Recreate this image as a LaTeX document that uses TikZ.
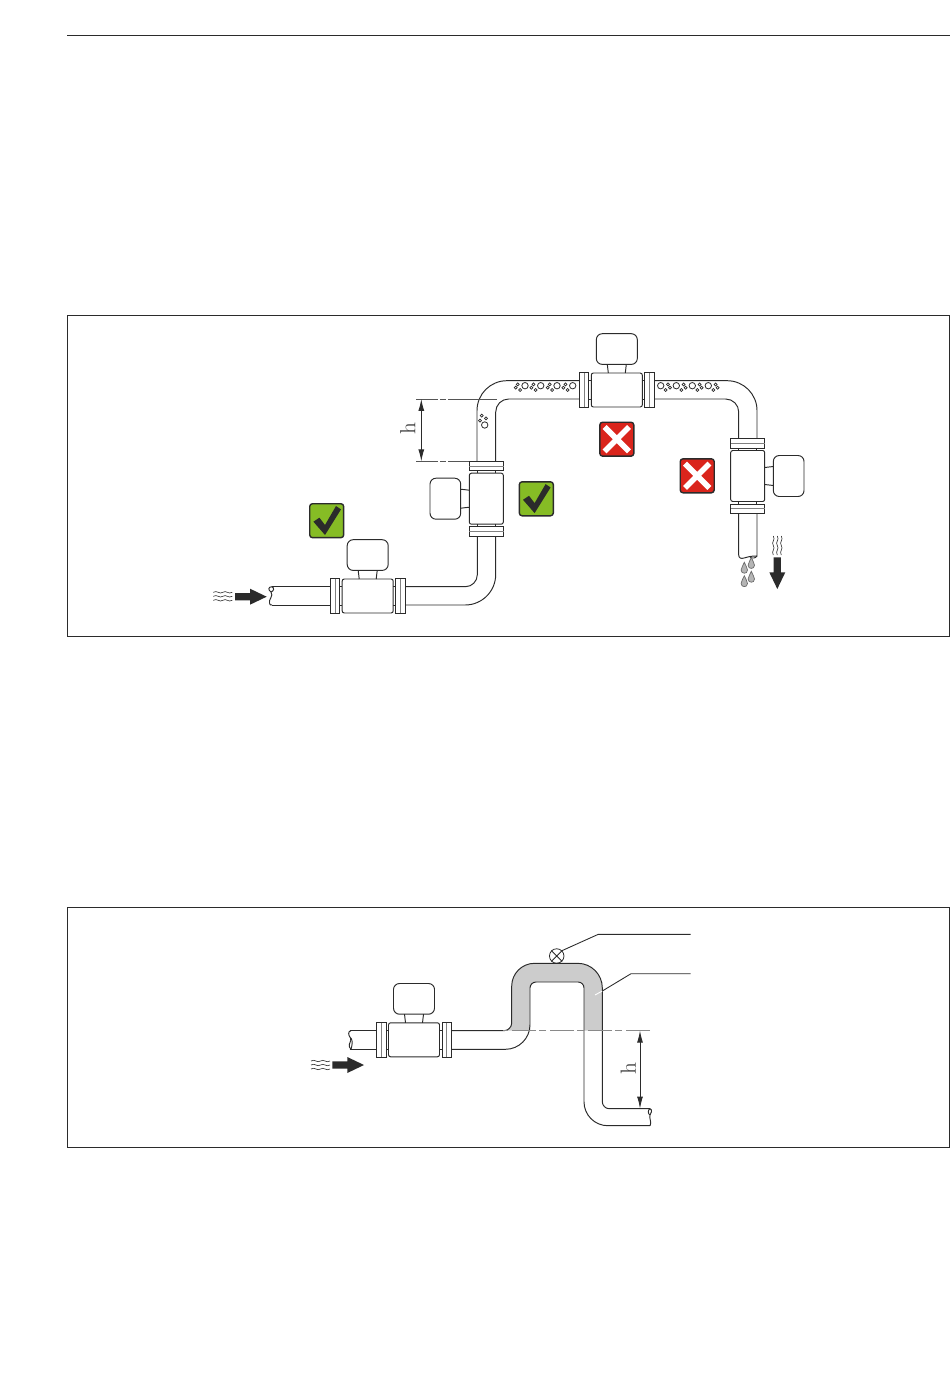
\documentclass[tikz,border=0pt]{standalone}
\usetikzlibrary{arrows.meta}
\definecolor{inkdark}{HTML}{2B2B2B}
\definecolor{okgreen}{HTML}{86BC25}
\definecolor{badred}{HTML}{DA251C}
\definecolor{siphongrey}{HTML}{CCCCCC}
\begin{document}
\begin{tikzpicture}[x=0.02cm,y=-0.02cm]

      \tikzset{pipe/.style={draw=inkdark, line width=.55pt},
      	panel/.style={draw=inkdark, line width=.5pt},
      	okbox/.style={draw=inkdark, line width=.8pt, rounded corners=1.6pt, fill=okgreen, minimum size=.68cm, inner sep=0pt},
      	badbox/.style={draw=inkdark, line width=.8pt, rounded corners=1.6pt, fill=badred, minimum size=.68cm, inner sep=0pt},
      	dimline/.style={draw=inkdark, line width=.5pt, {Latex[length=6.8pt,width=3.4pt]}-{Latex[length=6.8pt,width=3.4pt]}},
      	centreline/.style={draw=inkdark!80, line width=.5pt},
      	dimlabel/.style={rotate=90, inner sep=0pt, text=inkdark!85, font=\fontsize{12.5}{12.5}\selectfont},
      	meter/.pic={
      		\draw[pipe, rounded corners=1.2pt] (-25.5,-17) rectangle (25.5,17);
      		\draw[pipe] (-37.4,-17.2) rectangle (-28,17.2);
      		\draw[pipe] (28,-17.2) rectangle (37.4,17.2);
      		\draw[inkdark!60, line width=.35pt] (-32.7,-17.2) -- (-32.7,17.2) (32.7,-17.2) -- (32.7,17.2);
      		\draw[pipe] (-28,-9.2) -- (-25.5,-9.2) (-28,9.2) -- (-25.5,9.2);
      		\draw[pipe] (28,-9.2) -- (25.5,-9.2) (28,9.2) -- (25.5,9.2);
      		\draw[pipe, rounded corners=3.4pt] (-20.5,-56.3) rectangle (20.5,-25.6);
      		\draw[pipe] (-9.5,-25.6) -- (-8.5,-17) (9.5,-25.6) -- (8.5,-17);
      	},
      	flowarrow/.pic={
      		\fill[inkdark] (0,-3.6) -- (15,-3.6) -- (15,-8) -- (31.7,0) -- (15,8) -- (15,3.6) -- (0,3.6) -- cycle;
      	},
      	waves/.pic={
      		\draw[inkdark, line width=.35pt] (0,-4) .. controls (4,-6.5) and (6,-1.5) .. (9.5,-4) .. controls (13,-6.5) and (15,-1.5) .. (19,-4);
      		\draw[inkdark, line width=.35pt] (0,0) .. controls (4,-2.5) and (6,2.5) .. (9.5,0) .. controls (13,-2.5) and (15,2.5) .. (19,0);
      		\draw[inkdark, line width=.35pt] (0,4) .. controls (4,1.5) and (6,6.5) .. (9.5,4) .. controls (13,1.5) and (15,6.5) .. (19,4);
      	},
      	bubbles/.pic={
      		\draw[inkdark, line width=.45pt] (0,0) circle (3.2);
      		\draw[inkdark, line width=.4pt, fill=white] (-9.3,2) circle (1.5);
      		\draw[inkdark, line width=.4pt, fill=white] (-7.3,-1.3) circle (1.5);
      		\draw[inkdark, line width=.4pt, fill=white] (-5,4.3) circle (1.5);
      	},
      	risebubbles/.pic={
      		\draw[inkdark, line width=.45pt] (0,0) circle (3.2);
      		\draw[inkdark, line width=.4pt, fill=white] (-3,-9.3) circle (1.5);
      		\draw[inkdark, line width=.4pt, fill=white] (1.3,-6.7) circle (1.5);
      		\draw[inkdark, line width=.4pt, fill=white] (-4.7,-4.3) circle (1.5);
      	},
      	droplet/.pic={
      		\draw[inkdark!70, line width=.4pt, fill=inkdark!35] (0,-6.5) .. controls (1,-3) and (3.2,-1.5) .. (3.2,1.2) .. controls (3.2,3.6) and (1.5,4.4) .. (0,4.4) .. controls (-1.5,4.4) and (-3.2,3.6) .. (-3.2,1.2) .. controls (-3.2,-1.5) and (-1,-3) .. (0,-6.5) -- cycle;
      	}}
      \newcommand{\okmark}[1]{\fill[inkdark, shift={(#1.center)}] (-13.3,1) -- (-7.3,-3) -- (-1.7,4.3) -- (9.3,-14.7) -- (14.3,-11.3) -- (-1.7,14.3) -- cycle;}
      \newcommand{\badmark}[1]{\draw[white, line width=3.2pt, shift={(#1.center)}] (-12.2,-12.2) -- (12.2,12.2) (-12.2,12.2) -- (12.2,-12.2);}

      \useasboundingbox (0,0) rectangle (950,1378);
      \draw[panel] (67,35.6) -- (950,35.6);

%% Panels
      	\node[panel, minimum width=17.655cm, minimum height=6.43cm, inner sep=0pt] (panelA) at (508.4,476) {};
      	\node[panel, minimum width=17.655cm, minimum height=4.81cm, inner sep=0pt] (panelB) at (508.4,1027.5) {};

%% Meters
      	\pic at (367.7,596) {meter};
      	\pic[rotate=90] at (486.3,498.7) {meter};
      	\pic at (616.8,390) {meter};
      	\pic[rotate=-90] at (747.7,476) {meter};

%% Pipe run, first panel
		\draw[pipe] (272,586.7) -- (330.3,586.7) (272,605) -- (330.3,605);
		\draw[pipe] (272,586.7) .. controls (268,586.7) and (268,590) .. (271,592) .. controls (274,596) and (268,600) .. (269.5,603) .. controls (270,605) .. (272,605);
		\draw[pipe] (272,586.7) .. controls (274.5,588) and (274,591) .. (271,592);
		\draw[pipe, rounded corners=6.8pt] (405.1,586.7) -- (477.3,586.7) -- (477.3,536.1);
		\draw[pipe, rounded corners=17.4pt] (405.1,605) -- (495.7,605) -- (495.7,536.1);
		\draw[pipe, rounded corners=7.4pt] (495.7,461.3) -- (495.7,399) -- (579.4,399);
		\draw[pipe, rounded corners=17pt] (477,461.3) -- (477,380.7) -- (579.4,380.7);
		\draw[pipe, rounded corners=17pt] (654.2,380.7) -- (757,380.7) -- (757,438.3);
		\draw[pipe, rounded corners=7.4pt] (654.2,399) -- (738.7,399) -- (738.7,438.3);
		\draw[pipe] (738.7,513.4) -- (738.7,555) .. controls (738.7,558) and (741,559) .. (744,558) .. controls (748,557) and (750,556) .. (757,556) -- (757,513.4);
		\draw[pipe] (750,557) .. controls (752,559) and (756,558) .. (757,556);

%% Bubbles
      	\pic at (525,385.7) {bubbles};
      	\pic at (540.7,385.7) {bubbles};
      	\pic at (557,385.7) {bubbles};
      	\pic at (572.7,385.7) {bubbles};
      	\pic[xscale=-1] at (660.7,385.7) {bubbles};
      	\pic[xscale=-1] at (676.3,385.7) {bubbles};
      	\pic[xscale=-1] at (692.3,385.7) {bubbles};
      	\pic[xscale=-1] at (708.3,385.7) {bubbles};
      	\pic at (484.7,425) {risebubbles};

%% Height of the rising pipe
      	\coordinate (riseTop) at (421.3,399);
      	\coordinate (riseBottom) at (421.3,461.3);
      	\coordinate (riseTopEnd) at (497,399);
      	\coordinate (riseBottomEnd) at (469.3,461.3);
      	\draw[centreline, dash pattern=on 12.5pt off 1.3pt on 3.2pt off 1.3pt on 60pt] (416,399) -- (riseTopEnd);
      	\draw[centreline, dash pattern=on 12.5pt off 1.3pt on 3.2pt off 1.3pt on 60pt] (416,461.3) -- (riseBottomEnd);
      	\draw[dimline] (riseTop) -- (riseBottom);
      	\node[dimlabel] (riseLabel) at (407.8,429) {h};

%% Right and wrong marks
      	\node[okbox] (okA) at (326.7,520.7) {};
      	\okmark{okA}
      	\node[okbox] (okB) at (536.3,498.8) {};
      	\okmark{okB}
      	\node[badbox] (badA) at (616.8,439.2) {};
      	\badmark{badA}
      	\node[badbox] (badB) at (697.2,475.8) {};
      	\badmark{badB}

%% Flow, drops
      	\pic at (213.3,596.3) {waves};
      	\pic at (235,596.7) {flowarrow};
      	\pic[rotate=-90] at (777.3,536) {waves};
      	\pic[rotate=-90] at (777.3,557.3) {flowarrow};
      	\pic at (751.3,564) {droplet};
      	\pic at (744.3,568.8) {droplet};
      	\pic at (751.3,577.8) {droplet};
      	\pic at (744.3,582.2) {droplet};

%% Second panel
      	\pic at (414,1039.8) {meter};
      	\pic at (311,1065) {waves};
      	\pic at (332.3,1065) {flowarrow};

		\fill[siphongrey] (503,1030.7) [rounded corners=4.5pt] -- (511.7,1030.7) [rounded corners=13pt] -- (511.7,963.3) [rounded corners=14pt] -- (602.3,963.3) [sharp corners] -- (602.3,1030.7) -- (584,1030.7) [rounded corners=3.4pt] -- (584,982) -- (530,982) [sharp corners] -- (530,1030.7) -- cycle;
		\draw[pipe] (349.5,1030.7) -- (376.6,1030.7) (349.5,1049.3) -- (376.6,1049.3);
		\draw[pipe] (351,1030.7) .. controls (348,1031) and (348,1035) .. (350.5,1038) .. controls (352,1041) and (348,1044) .. (349.5,1047) .. controls (350,1049) .. (351,1049.3);
		\draw[pipe] (351,1038) .. controls (353,1041) and (352,1046) .. (351,1049.3);
		\draw[pipe] (451.4,1030.7) [rounded corners=4.5pt] -- (511.7,1030.7) [rounded corners=13pt] -- (511.7,963.3) [rounded corners=14pt] -- (602.3,963.3) [rounded corners=4pt] -- (602.3,1108.7) [sharp corners] -- (650,1108.7);
		\draw[pipe] (451.4,1049.3) [rounded corners=14pt] -- (530,1049.3) [rounded corners=3.4pt] -- (530,982) -- (584,982) [rounded corners=13.6pt] -- (584,1125.7) [sharp corners] -- (650,1125.7);
		\draw[pipe] (650,1108.7) .. controls (653,1110) and (651,1113) .. (650,1115) .. controls (649,1119) and (652,1122) .. (650,1125.7);
		\draw[pipe] (650,1108.7) .. controls (647.5,1110) and (648,1114) .. (650,1115);

%% Siphon level
      	\coordinate (levelLeft) at (503,1030.7);
      	\coordinate (levelRight) at (650,1030.7);
      	\draw[draw=inkdark!55, line width=.65pt, dash pattern=on 13.6pt off 2.3pt on 4pt off 1.7pt] (levelRight) -- (levelLeft);
      	\coordinate (dropTop) at (640,1030.7);
      	\coordinate (dropBottom) at (640,1108.5);
      	\draw[dimline] (dropTop) -- (dropBottom);
      	\node[dimlabel] (dropLabel) at (628.2,1068.5) {h};

%% Valve, leaders
      	\node[draw=inkdark, line width=.45pt, circle, inner sep=0pt, minimum size=.29cm] (valve) at (556.7,956) {};
      	\draw[inkdark, line width=.45pt] (valve.north west) -- (valve.south east) (valve.north east) -- (valve.south west);
      	\coordinate (valveBend) at (598.3,934.3);
      	\coordinate (valveEnd) at (690.7,934.3);
      	\draw[panel] (valve.north east) -- (valveBend) -- (valveEnd);
      	\coordinate (greyStart) at (595,995);
      	\coordinate (greyEdge) at (602.3,991);
      	\coordinate (greyBend) at (631,973.7);
      	\coordinate (greyEnd) at (690.7,973.7);
      	\draw[white, line width=.5pt] (greyStart) -- (greyEdge);
      	\draw[panel] (greyEdge) -- (greyBend) -- (greyEnd);

	\end{tikzpicture}
\end{document}
